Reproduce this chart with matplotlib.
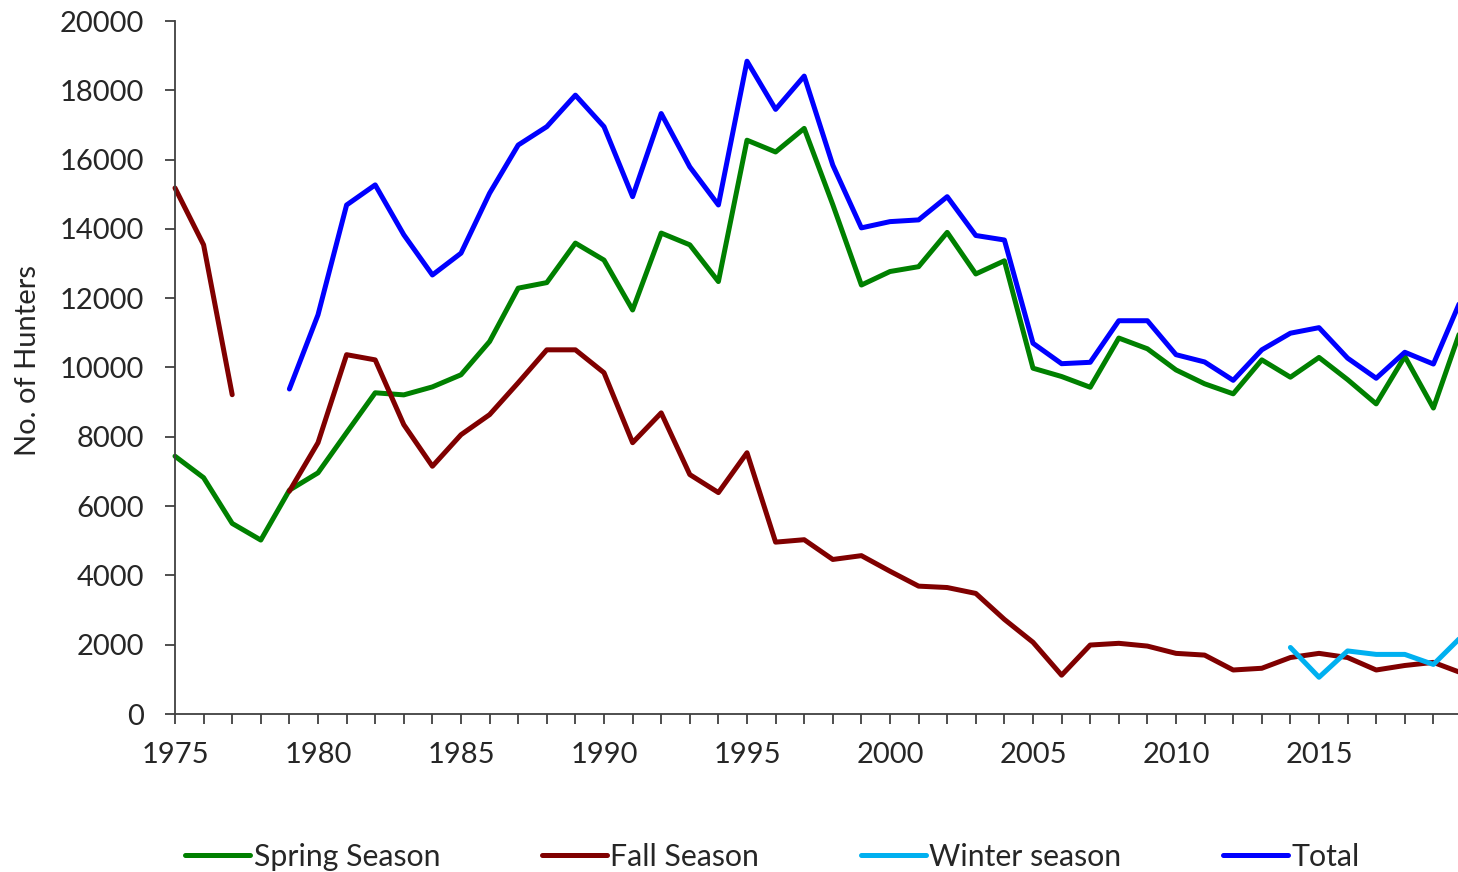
import numpy as np
import matplotlib.pyplot as plt

plt.rcParams["font.family"] = ["Lato", "DejaVu Sans"]

# years on the x axis
years = list(range(1975, 2021))

# hunters per season (nan = no season that year)
nan = np.nan
spring = [7440, 6820, 5500, 5020, 6460, 6960, 8120, 9270, 9210, 9440,
          9790, 10750, 12290, 12450, 13590, 13100, 11660, 13880, 13540, 12480,
          16560, 16220, 16900, 14700, 12380, 12770, 12910, 13900, 12700, 13080,
          9980, 9740, 9430, 10850, 10540, 9930, 9530, 9240, 10220, 9720,
          10290, 9650, 8950, 10320, 8830, 11200]
fall = [15180, 13540, 9215, nan, 6430, 7830, 10370, 10220, 8350, 7150,
        8060, 8640, 9560, 10510, 10510, 9850, 7830, 8690, 6910, 6390,
        7540, 4960, 5030, 4460, 4570, 4120, 3690, 3650, 3480, 2730,
        2070, 1120, 1990, 2040, 1960, 1750, 1700, 1270, 1320, 1630,
        1750, 1630, 1270, 1400, 1490, 1180]
winter = [nan] * 39 + [1920, 1060, 1820, 1720, 1720, 1430, 2250]
total = [nan, nan, nan, nan, 9380, 11520, 14690, 15270, 13830, 12670,
         13300, 15030, 16420, 16950, 17860, 16950, 14930, 17330, 15790, 14690,
         18840, 17450, 18410, 15840, 14030, 14210, 14260, 14930, 13810, 13680,
         10700, 10110, 10150, 11350, 11350, 10370, 10160, 9630, 10510, 10990,
         11150, 10270, 9690, 10440, 10100, 12030]

labels = ["Spring Season", "Fall Season", "Winter season", "Total"]
colors = ["#008000", "#800000", "#00B0F0", "#0000FF"]

fig = plt.figure(figsize=(14.58, 8.72), dpi=100)
ax = fig.add_axes([175 / 1458, 158 / 872, 1287 / 1458, 693 / 872])

for series, label, color in zip([spring, fall, winter, total], labels, colors):
    ax.plot(years, series, color=color, lw=3.6, label=label,
            solid_capstyle="round", clip_on=False)

ax.set_xlim(1975, 2020)
ax.set_ylim(0, 20000)
ax.set_xticks(range(1975, 2020, 5))
ax.set_xticks(range(1975, 2021), minor=True)
ax.set_yticks(range(0, 20001, 2000))

for side in ["top", "right"]:
    ax.spines[side].set_visible(False)
for side in ["left", "bottom"]:
    ax.spines[side].set_color("#404040")
    ax.spines[side].set_linewidth(1.3)

ax.tick_params(axis="both", which="both", direction="out", length=7,
               width=1.3, color="#404040", labelsize=21, labelcolor="#262626")
ax.tick_params(axis="x", pad=13)
ax.tick_params(axis="y", pad=15)

fig.text(28 / 1458, (872 - 360) / 872, "No. of Hunters", rotation=90,
         ha="center", va="center", fontsize=21, color="#262626")

fig.legend(loc="center left", bbox_to_anchor=(185 / 1458, 15 / 872),
           ncol=4, frameon=False, fontsize=21.8, handlelength=2.15,
           handletextpad=0.12, columnspacing=3.35, borderpad=0,
           borderaxespad=0, labelcolor="#262626")

fig.savefig("out.png", dpi=100)
